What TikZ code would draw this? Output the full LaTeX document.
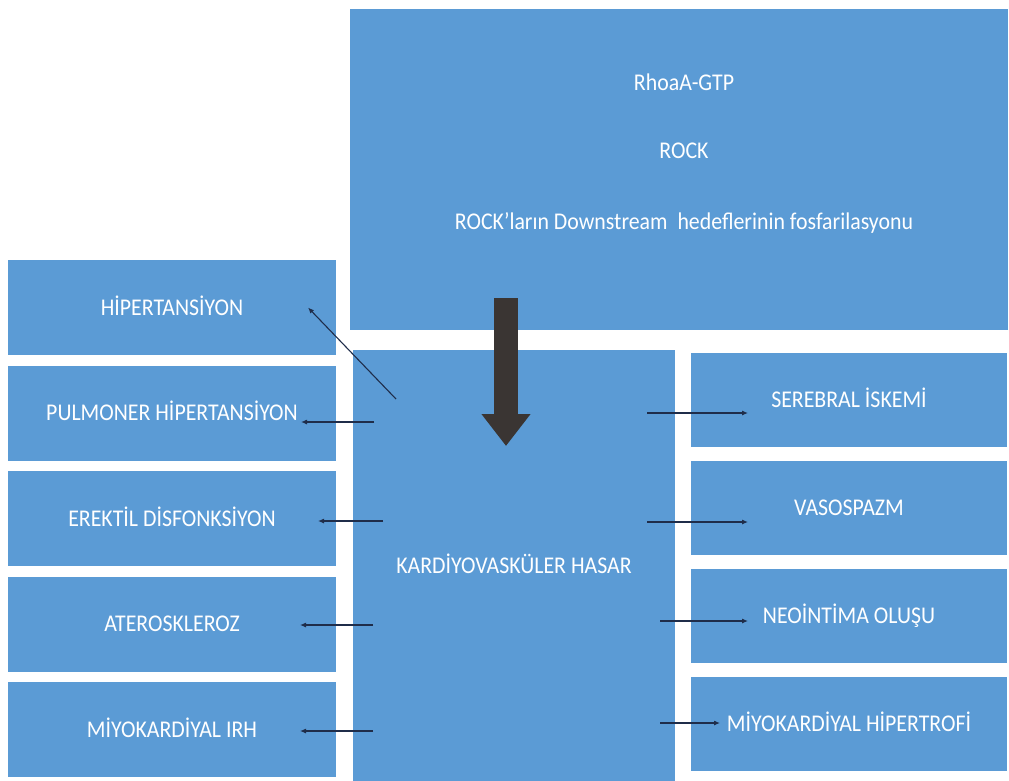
\documentclass[tikz,border=0pt]{standalone}
\usepackage{fontspec}
\setmainfont{Carlito}[FakeStretch=0.91]
\usepackage{xcolor}
\usepackage{tikz}
\usetikzlibrary{positioning,arrows.meta}
\definecolor{PanelBlue}{HTML}{5B9BD5}
\definecolor{LinkNavy}{HTML}{1F2D4A}
\definecolor{FlowBrown}{HTML}{3A3533}

\begin{document}
\begin{tikzpicture}[
  x=1pt, y=-1pt,
  node distance=10.5pt,
  box/.style={fill=PanelBlue, text=white, outer sep=0pt, inner sep=0pt, font=\fontsize{24}{28}\selectfont, text height=17pt, text depth=1.6pt},
  leftbox/.style={box, minimum width=328pt, minimum height=95pt},
  rightbox/.style={box, minimum width=316pt, minimum height=94pt},
  cascade/.style={text=white, anchor=base, inner sep=0pt, font=\fontsize{24}{28}\selectfont},
  arrow/.style={-{Latex[length=6pt,width=5pt]}, line width=1.1pt, draw=LinkNavy},
  bigarrow/.style={-{Triangle[length=32pt,width=47pt]}, line width=24pt, draw=FlowBrown}
]
\useasboundingbox (0,0) rectangle (1009,781);
\node[box, minimum width=658pt, minimum height=321pt] (rho) at (679,169.5) {};
\node[cascade] (gtp) at (684,90.5) {RhoaA-GTP};
\node[cascade] (rock) at (684,158.5) {ROCK};
\node[cascade] (fosf) at (684,229.5) {ROCK’ların Downstream~ hedeflerinin fosfarilasyonu};
\node[box, minimum width=322pt, minimum height=431pt] (hasar) at (514,565.5) {KARDİYOVASKÜLER HASAR};
\node[leftbox] (hyp) at (172,307.5) {HİPERTANSİYON};
\node[leftbox, below=of hyp] (pulm) {PULMONER HİPERTANSİYON};
\node[leftbox, below=of pulm] (erek) {EREKTİL DİSFONKSİYON};
\node[leftbox, below=of erek] (ater) {ATEROSKLEROZ};
\node[leftbox, below=of ater] (irh) {MİYOKARDİYAL IRH};
\node[rightbox] (sereb) at (849,400) {SEREBRAL İSKEMİ};
\node[rightbox, below=14pt of sereb] (vaso) {VASOSPAZM};
\node[rightbox, below=14pt of vaso] (neo) {NEOİNTİMA OLUŞU};
\node[rightbox, below=14pt of neo] (trofi) {MİYOKARDİYAL HİPERTROFİ};
\draw[bigarrow] ([xshift=-8pt,yshift=52pt]hasar.north) -- ([xshift=-8pt,yshift=-96pt]hasar.north);
\draw[arrow] ([xshift=43pt,yshift=-49pt]hasar.north west) -- ([xshift=-28pt]hyp.east);
\draw[arrow] ([xshift=38pt,yshift=-9pt]pulm.east) -- ([xshift=-35pt,yshift=-9pt]pulm.east);
\draw[arrow] ([xshift=47pt,yshift=-2.5pt]erek.east) -- ([xshift=-18pt,yshift=-2.5pt]erek.east);
\draw[arrow] ([xshift=37pt,yshift=-1pt]ater.east) -- ([xshift=-36pt,yshift=-1pt]ater.east);
\draw[arrow] ([xshift=37pt,yshift=-1.5pt]irh.east) -- ([xshift=-36pt,yshift=-1.5pt]irh.east);
\draw[arrow] ([xshift=-44pt,yshift=-13pt]sereb.west) -- ([xshift=57pt,yshift=-13pt]sereb.west);
\draw[arrow] ([xshift=-44pt,yshift=-14pt]vaso.west) -- ([xshift=57pt,yshift=-14pt]vaso.west);
\draw[arrow] ([xshift=-31pt,yshift=-5pt]neo.west) -- ([xshift=57pt,yshift=-5pt]neo.west);
\draw[arrow] ([xshift=-31pt,yshift=1pt]trofi.west) -- ([xshift=29pt,yshift=1pt]trofi.west);
\end{tikzpicture}
\end{document}
